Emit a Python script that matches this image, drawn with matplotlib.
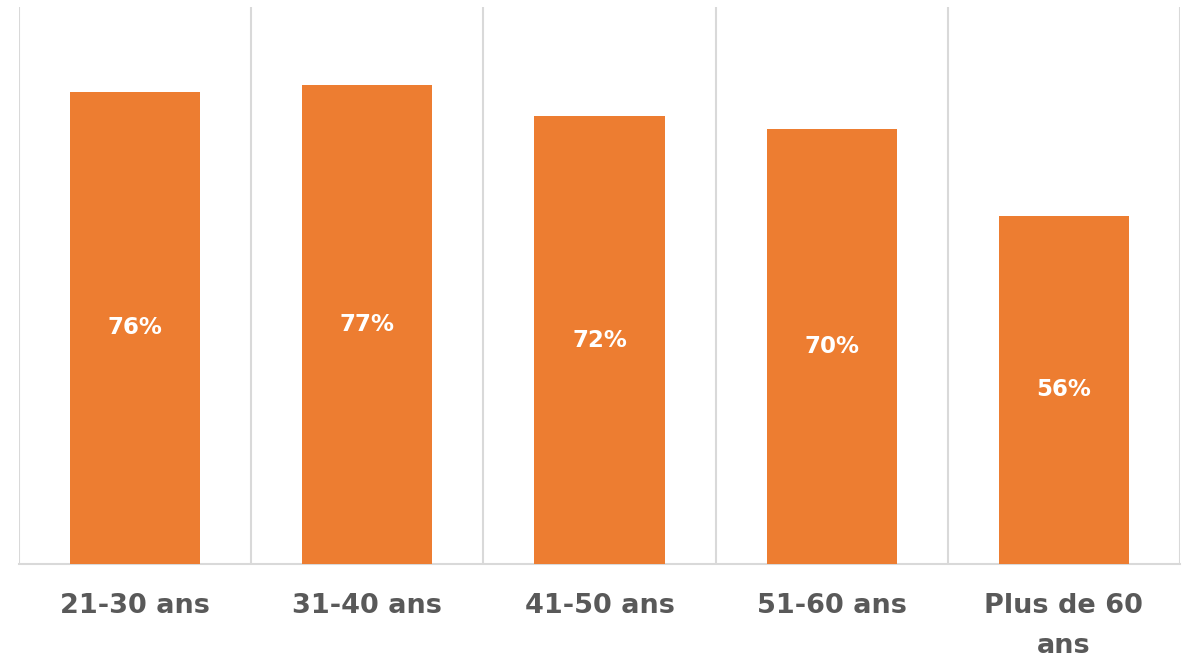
import matplotlib.pyplot as plt
import numpy as np

# Données
tranches = ['21-30 ans', '31-40 ans', '41-50 ans', '51-60 ans', 'Plus de 60\nans']
valeurs = [76, 77, 72, 70, 56]

orange = '#ED7D31'
gris_texte = '#595959'
gris_ligne = '#D9D9D9'

fig = plt.figure(figsize=(11.82, 6.58), dpi=100)
ax = fig.add_axes([19 / 1182, 94 / 658, 1161 / 1182, 557 / 658])

x = np.arange(len(tranches))
ax.bar(x, valeurs, width=0.56, color=orange, zorder=3)

# Étiquettes de données au milieu des barres
for xi, v in zip(x, valeurs):
    ax.text(xi, v / 2, f'{v}%', ha='center', va='center', color='white',
            fontsize=16.5, fontweight='bold', zorder=4)

ax.set_xlim(-0.5, len(tranches) - 0.5)
ax.set_ylim(0, 89.6)

ax.set_xticks(x)
ax.set_xticklabels(tranches, fontsize=19.5, fontweight='bold', color=gris_texte,
                   linespacing=1.68, va='top')
ax.tick_params(axis='x', length=0, pad=21)
ax.set_yticks([])

# Lignes verticales entre les catégories
ax.set_xticks(np.arange(-0.5, len(tranches)), minor=True)
ax.tick_params(axis='x', which='minor', length=0)
ax.grid(True, axis='x', which='minor', color=gris_ligne, linewidth=1.5, zorder=0)
ax.grid(False, axis='x', which='major')

for cote in ['top', 'left', 'right']:
    ax.spines[cote].set_visible(False)
ax.spines['bottom'].set_color(gris_ligne)
ax.spines['bottom'].set_linewidth(1.5)

fig.savefig('out.png', dpi=100)
